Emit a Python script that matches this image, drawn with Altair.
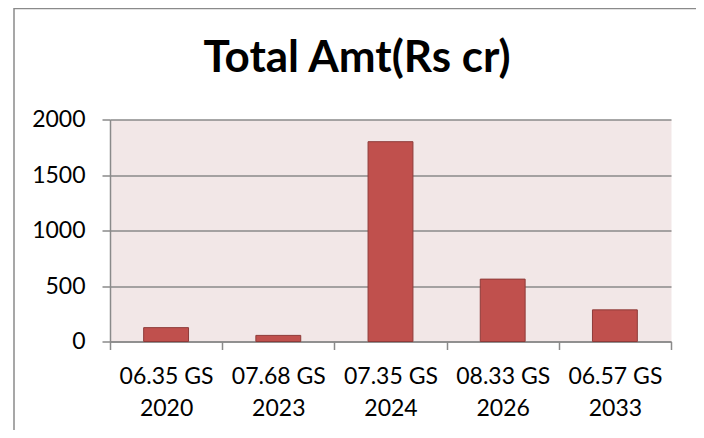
import altair as alt
import pandas as pd

bonds = ["06.35 GS", "07.68 GS", "07.35 GS", "08.33 GS", "06.57 GS"]
years = ["2020", "2023", "2024", "2026", "2033"]
amounts = [125, 55, 1800, 562, 285]
y_ticks = [0, 500, 1000, 1500, 2000]

df = pd.DataFrame({
    "bond": [f"{b}\n{y}" for b, y in zip(bonds, years)],
    "amt": amounts,
})

FONT = "Lato"
GRAY = "#8A8A8A"

frame = alt.Chart(pd.DataFrame({"f": [0]})).mark_rect(
    fill="transparent", stroke=GRAY, strokeWidth=1.5
).encode(
    x=alt.value(-96), x2=alt.value(590), y=alt.value(-111), y2=alt.value(340)
)

bars = alt.Chart(df).mark_bar(
    color="#C0504D", stroke="#8E3B39", strokeWidth=1,
    width=alt.RelativeBandSize(0.4)
).encode(
    x=alt.X(
        "bond:N", sort=None,
        scale=alt.Scale(paddingInner=0, paddingOuter=0),
        axis=alt.Axis(
            title=None, labelAngle=0,
            labelExpr="split(datum.label, '\\n')",
            tickBand="extent", tickSize=8, tickColor=GRAY, tickWidth=1.5,
            domainColor=GRAY, domainWidth=1.5,
            labelFont=FONT, labelFontSize=23, labelLineHeight=32,
            labelColor="black", labelPadding=16, grid=False,
        ),
    ),
    y=alt.Y(
        "amt:Q",
        scale=alt.Scale(domain=[0, 2000]),
        axis=alt.Axis(
            title=None, values=y_ticks, format="d",
            tickSize=8, tickColor=GRAY, tickWidth=1.5,
            domainColor=GRAY, domainWidth=1.5,
            grid=True, gridColor=GRAY, gridWidth=1.5,
            labelFont=FONT, labelFontSize=23, labelColor="black",
            labelPadding=17,
        ),
    ),
)

chart = alt.layer(frame, bars).properties(
    width=561,
    height=222,
    title=alt.TitleParams(
        "Total Amt(Rs cr)", font=FONT, fontSize=44, fontWeight="bold",
        color="black", anchor="middle", dx=-33.5, offset=0, dy=73,
    ),
    autosize=alt.AutoSizeParams(type="none"),
    padding={"left": 102, "top": 111.5, "right": 25, "bottom": 88.5},
    background="white",
).configure_view(
    fill="#F2E7E7", stroke="transparent"
)

chart.save("out.html", embed_options={"renderer": "svg", "actions": False})
